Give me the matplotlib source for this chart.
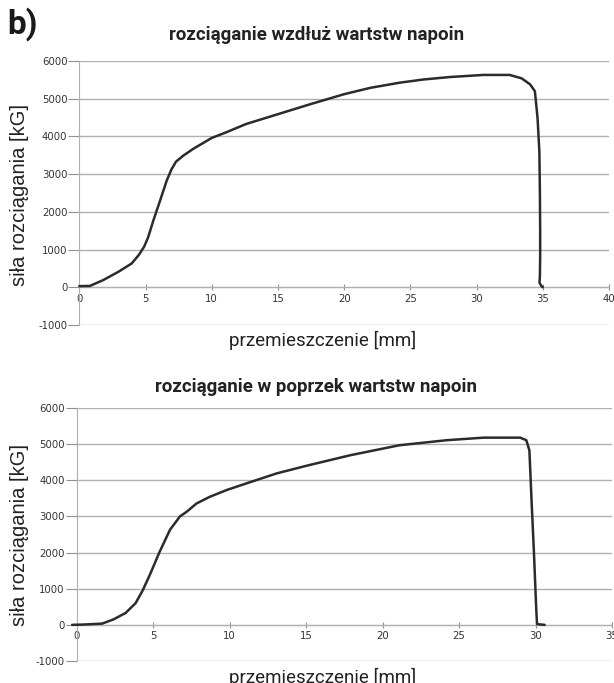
import matplotlib
matplotlib.use('Agg')
import matplotlib.pyplot as plt

plt.rcParams['axes.unicode_minus'] = False

# top: rozciaganie wzdluz wartstw napoin
x_top = [0, 0.8, 1.8, 2.95, 3.95, 4.5, 4.9, 5.2, 5.6, 6.1, 6.6, 6.95, 7.3, 7.85, 8.6, 10.0,
         11.1, 12.6, 15.0, 17.4, 20.0, 22.0, 24.2, 26.0, 28.0, 30.5, 32.5, 33.4, 34.04,
         34.4, 34.6, 34.74, 34.78, 34.8, 34.8, 34.78, 34.75, 34.9, 35.0]
y_top = [30, 35, 190, 410, 630, 860, 1080, 1330, 1780, 2300, 2830, 3120, 3330, 3490, 3670,
         3960, 4110, 4330, 4590, 4850, 5120, 5290, 5425, 5510, 5575, 5630, 5630, 5540,
         5380, 5200, 4500, 3600, 2500, 1500, 800, 300, 120, 30, 0]

# bottom: rozciaganie w poprzek wartstw napoin
x_bot = [-0.3, 0.5, 1.67, 2.4, 3.2, 3.85, 4.3, 4.8, 5.4, 6.1, 6.75, 7.19, 7.84, 8.71, 9.8,
         11.1, 13.07, 15.0, 17.9, 21.1, 24.2, 26.6, 29.0, 29.4, 29.6, 29.75, 29.9, 30.05,
         30.1, 30.6]
y_bot = [0, 10, 35, 150, 330, 600, 940, 1400, 2000, 2630, 3000, 3130, 3360, 3545, 3730,
         3915, 4190, 4400, 4695, 4970, 5110, 5180, 5180, 5110, 4830, 3360, 1980, 420,
         20, 0]

y_ticks = [-1000, 0, 1000, 2000, 3000, 4000, 5000, 6000]
x_ticks_top = [0, 5, 10, 15, 20, 25, 30, 35, 40]
x_ticks_bot = [0, 5, 10, 15, 20, 25, 30, 35]

titles = ['rozciąganie wzdłuż wartstw napoin', 'rozciąganie w poprzek wartstw napoin']
xlab = 'przemieszczenie [mm]'
ylab = 'siła rozciągania [kG]'

fig = plt.figure(figsize=(6.14, 6.83), dpi=100)
ax1 = fig.add_axes([0.1292, 0.5242, 0.8627, 0.3865])
ax2 = fig.add_axes([0.1249, 0.0322, 0.8718, 0.3704])

grid_c = '#b0b0b0'
for ax, xs, ys, xt, xmax in [(ax1, x_top, y_top, x_ticks_top, 40),
                             (ax2, x_bot, y_bot, x_ticks_bot, 35)]:
    ax.plot(xs, ys, color='#2b2b2b', lw=1.8, solid_joinstyle='round',
            solid_capstyle='round', zorder=5, clip_on=False)
    ax.set_xlim(0, xmax)
    ax.set_ylim(-1000, 6000)
    ax.set_yticks(y_ticks)
    ax.set_xticks(xt)
    ax.yaxis.grid(True, color=grid_c, lw=1.0)
    ax.set_axisbelow(True)
    for s in ['top', 'right']:
        ax.spines[s].set_visible(False)
    ax.spines['bottom'].set_position(('data', 0))
    ax.spines['bottom'].set_color(grid_c)
    ax.spines['left'].set_color(grid_c)
    ax.tick_params(axis='y', direction='out', length=8, color='#909090',
                   labelsize=7.3, labelcolor='#333333', pad=0.5)
    ax.tick_params(axis='x', direction='inout', length=5, color='#909090',
                   labelsize=7.3, labelcolor='#333333', pad=2)
    for lab in ax.get_xticklabels() + ax.get_yticklabels():
        lab.set_family('DejaVu Sans')

fig.text(0.012, 0.99, 'b)', fontsize=24, fontweight='bold', family='Roboto',
         va='top', ha='left', color='#1a1a1a')
fig.text(0.515, 0.949, titles[0], fontsize=13.5, fontweight='bold', family='Roboto',
         ha='center', va='center', color='#222222')
fig.text(0.525, 0.501, xlab, fontsize=13.5, family='Roboto', ha='center', va='center',
         color='#222222')
fig.text(0.515, 0.433, titles[1], fontsize=13.5, fontweight='bold', family='Roboto',
         ha='center', va='center', color='#222222')
fig.text(0.525, 0.008, xlab, fontsize=13.5, family='Roboto', ha='center', va='center',
         color='#222222')
fig.text(0.031, 0.7145, ylab, fontsize=14.5, family='Liberation Sans', rotation=90,
         ha='center', va='center', color='#222222')
fig.text(0.031, 0.217, ylab, fontsize=14.5, family='Liberation Sans', rotation=90,
         ha='center', va='center', color='#222222')

fig.savefig('out.png', dpi=100)
